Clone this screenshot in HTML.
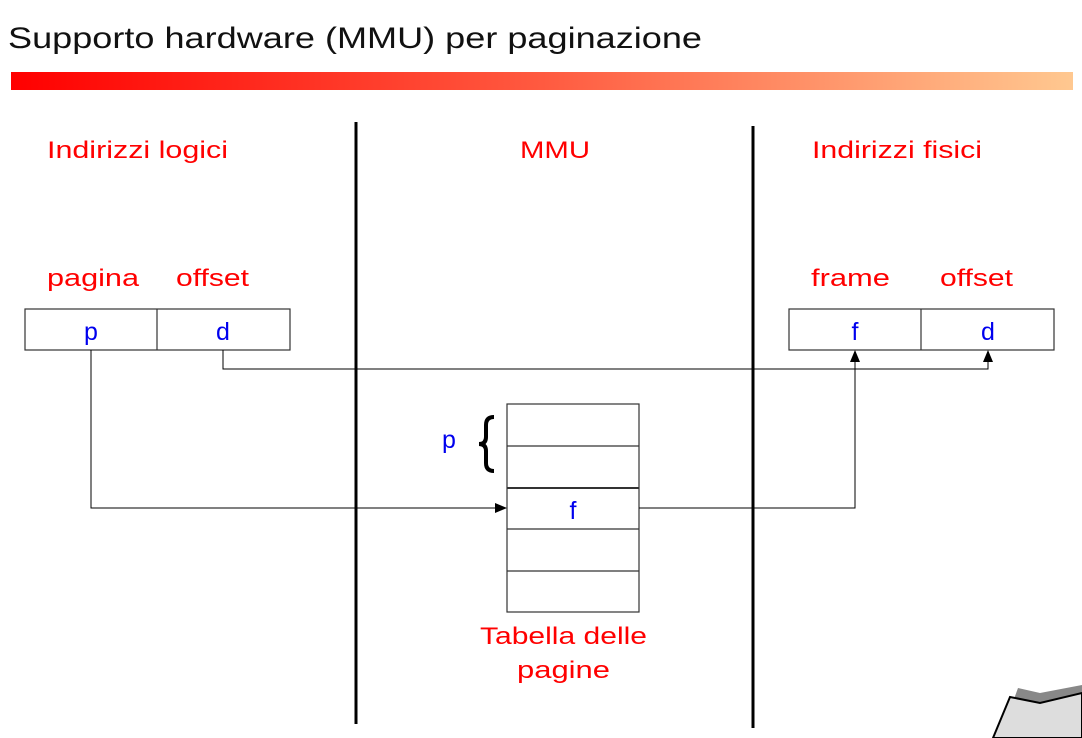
<!DOCTYPE html>
<html><head><meta charset="utf-8"><style>
html,body{margin:0;padding:0;background:#fff;}
svg{display:block;}
text{font-family:"Liberation Sans",sans-serif;}
</style></head><body>
<svg width="1082" height="738" viewBox="0 0 1082 738" xmlns="http://www.w3.org/2000/svg">
<defs>
<linearGradient id="g" x1="0" x2="1" y1="0" y2="0">
<stop offset="0" stop-color="#ff0000"/><stop offset="0.5" stop-color="#ff5a40"/><stop offset="1" stop-color="#ffc890"/>
</linearGradient>
<marker id="a" markerWidth="12" markerHeight="10" refX="11" refY="5" orient="auto" markerUnits="userSpaceOnUse">
<path d="M0,0 L12,5 L0,10 z" fill="#000"/>
</marker>
</defs>
<text x="8" y="48" font-size="30" fill="#111" textLength="694" lengthAdjust="spacingAndGlyphs">Supporto hardware (MMU) per paginazione</text>
<rect x="11" y="72" width="1062" height="18" fill="url(#g)"/>

<g font-size="24" fill="#ff0000">
<text x="47" y="158" textLength="181" lengthAdjust="spacingAndGlyphs">Indirizzi logici</text>
<text x="520" y="158" textLength="70" lengthAdjust="spacingAndGlyphs">MMU</text>
<text x="812" y="158" textLength="170" lengthAdjust="spacingAndGlyphs">Indirizzi fisici</text>
<text x="47" y="286" textLength="92" lengthAdjust="spacingAndGlyphs">pagina</text>
<text x="176" y="286" textLength="73" lengthAdjust="spacingAndGlyphs">offset</text>
<text x="811" y="286" textLength="79" lengthAdjust="spacingAndGlyphs">frame</text>
<text x="940" y="286" textLength="73" lengthAdjust="spacingAndGlyphs">offset</text>
<text x="480" y="644" textLength="167" lengthAdjust="spacingAndGlyphs">Tabella delle</text>
<text x="517" y="678" textLength="93" lengthAdjust="spacingAndGlyphs">pagine</text>
</g>

<line x1="356" y1="122" x2="356" y2="724" stroke="#000" stroke-width="3"/>
<line x1="753" y1="126" x2="753" y2="728" stroke="#000" stroke-width="3"/>

<g fill="#fff" stroke="#333" stroke-width="1.2">
<rect x="25" y="309" width="265" height="41"/>
<line x1="157" y1="309" x2="157" y2="350"/>
<rect x="789" y="309" width="265" height="41"/>
<line x1="921" y1="309" x2="921" y2="350"/>
<rect x="507" y="404" width="132" height="208"/>
<line x1="507" y1="446" x2="639" y2="446"/>
<line x1="507" y1="488" x2="639" y2="488" stroke-width="2"/>
<line x1="507" y1="529" x2="639" y2="529"/>
<line x1="507" y1="571" x2="639" y2="571"/>
</g>

<g font-size="25" fill="#0000ee" text-anchor="middle">
<text x="91" y="340">p</text>
<text x="223" y="340">d</text>
<text x="855" y="340">f</text>
<text x="988" y="340">d</text>
<text x="573" y="519">f</text>
<text x="449" y="448">p</text>
</g>

<path d="M494,417 Q486,417 486,425 L486,437 Q486,444 479,444 Q486,444 486,451 L486,463 Q486,471 494,471" fill="none" stroke="#000" stroke-width="4"/>

<g fill="none" stroke="#000" stroke-width="1">
<polyline points="91,350 91,508 506,508" marker-end="url(#a)"/>
<polyline points="223,350 223,369 988,369 988,351" marker-end="url(#a)"/>
<polyline points="639,508 855,508 855,351" marker-end="url(#a)"/>
</g>

<polygon points="1018,688 1040,693 1082,685 1082,738 1000,738" fill="#888"/>
<polygon points="1010,697 1040,703 1082,693 1082,738 993,738" fill="#ddd" stroke="#000" stroke-width="2"/>
</svg>
</body></html>
